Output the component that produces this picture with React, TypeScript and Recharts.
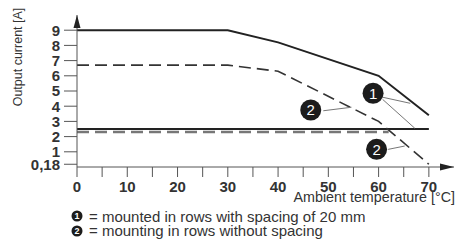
import React from 'react';
import { LineChart, Line, XAxis, YAxis, ReferenceDot, ReferenceLine, Label } from 'recharts';

// Ambient temperature [°C] / output current [A]
const spacedTemps = [0, 30, 40, 60, 70];
const spacedCurrent = [9, 9, 8.2, 6, 3.4];
const noSpacingTemps = [0, 30, 40, 60, 70];
const noSpacingCurrent = [6.7, 6.7, 6.3, 3.0, 0.18];
const spacedLowTemps = [0, 70];
const spacedLowCurrent = [2.5, 2.5];
const noSpacingLowTemps = [0, 62];
const noSpacingLowCurrent = [2.3, 2.3];

const xTicks = [0, 5, 10, 15, 20, 25, 30, 35, 40, 45, 50, 55, 60, 65, 70];
const yTicks = [0.18, 1, 2, 3, 4, 5, 6, 7, 8, 9];

const legendItems = [
  { num: '1', text: '= mounted in rows with spacing of 20 mm' },
  { num: '2', text: '= mounting in rows without spacing' },
];

const toPoints = (t: number[], v: number[]) => t.map((x, i) => ({ t: x, v: v[i] }));

const FONT = '"Liberation Sans", Arial, Helvetica, sans-serif';
const AXIS = '#555';

const YArrow = (p: any) => (
  <polygon points={`${p.cx},${p.cy} ${p.cx - 3.5},${p.cy + 13} ${p.cx + 3.5},${p.cy + 13}`} fill="#222" />
);
const XArrow = (p: any) => (
  <polygon points={`${p.cx},${p.cy} ${p.cx - 14},${p.cy - 3.5} ${p.cx - 14},${p.cy + 3.5}`} fill="#222" />
);

const circleLabel = (n: string) => ({
  value: n,
  position: 'center' as const,
  fill: '#fff',
  fontSize: 15,
  fontFamily: FONT,
});

export default function App() {
  return (
    <div style={{ position: 'absolute', left: 0, top: 0, width: 456, height: 242, background: '#fff', fontFamily: FONT }}>
      <LineChart width={456} height={242} margin={{ top: 15, right: 2, left: 0, bottom: 45 }}>
        <XAxis
          type="number"
          dataKey="t"
          domain={[0, 75]}
          ticks={xTicks}
          allowDataOverflow
          height={30}
          tickSize={10}
          tickMargin={4}
          tickLine={{ stroke: AXIS }}
          axisLine={{ stroke: AXIS }}
          tickFormatter={(v: number) => (v % 10 === 0 ? String(v) : '')}
          tick={{ fill: '#333', fontSize: 15, fontWeight: 700, fontFamily: FONT }}
        >
          <Label
            content={(props: any) => {
              const vb = props.viewBox || { x: 77, y: 167, width: 377 };
              return (
                <text x={vb.x + vb.width + 1} y={vb.y + 35} textAnchor="end" fill="#333" fontSize={14.3} fontFamily={FONT}>
                  Ambient temperature [°C]
                </text>
              );
            }}
          />
        </XAxis>
        <YAxis
          type="number"
          domain={[0, 10]}
          ticks={yTicks}
          allowDataOverflow
          width={77}
          tickSize={13}
          tickMargin={4}
          tickLine={{ stroke: AXIS }}
          axisLine={{ stroke: AXIS }}
          interval={0}
          tickFormatter={(v: number) => (v === 0.18 ? '0,18' : String(v))}
          tick={{ fill: '#333', fontSize: 15, fontWeight: 700, fontFamily: FONT }}
        >
          <Label
            content={() => {
              const x = 22;
              const y = 57;
              return (
                <text x={x} y={y} transform={`rotate(-90 ${x} ${y})`} textAnchor="middle" fill="#333" fontSize={12.5} fontFamily={FONT}>
                  Output current [A]
                </text>
              );
            }}
          />
        </YAxis>

        <Line data={toPoints(noSpacingLowTemps, noSpacingLowCurrent)} dataKey="v" stroke="#777" strokeWidth={2.5} strokeDasharray="12 6" dot={false} isAnimationActive={false} />
        <Line data={toPoints(spacedLowTemps, spacedLowCurrent)} dataKey="v" stroke="#222" strokeWidth={2} dot={false} isAnimationActive={false} />
        <Line data={toPoints(noSpacingTemps, noSpacingCurrent)} dataKey="v" stroke="#333" strokeWidth={1.6} strokeDasharray="12 6" dot={false} isAnimationActive={false} />
        <Line data={toPoints(spacedTemps, spacedCurrent)} dataKey="v" stroke="#222" strokeWidth={2} dot={false} isAnimationActive={false} />

        <ReferenceLine segment={[{ x: 60.8, y: 4.59 }, { x: 66.3, y: 4.19 }]} stroke="#777" strokeWidth={1} ifOverflow="visible" />
        <ReferenceLine segment={[{ x: 60.8, y: 4.45 }, { x: 67.2, y: 2.55 }]} stroke="#777" strokeWidth={1} ifOverflow="visible" />
        <ReferenceLine segment={[{ x: 49.0, y: 3.7 }, { x: 54.6, y: 3.93 }]} stroke="#777" strokeWidth={1} ifOverflow="visible" />
        <ReferenceLine segment={[{ x: 61.9, y: 1.16 }, { x: 65.2, y: 1.38 }]} stroke="#777" strokeWidth={1} ifOverflow="visible" />

        <ReferenceDot x={58.9} y={4.85} r={10.5} fill="#1c1c1c" stroke="none" ifOverflow="visible" label={circleLabel('1')} />
        <ReferenceDot x={46.5} y={3.75} r={10.5} fill="#1c1c1c" stroke="none" ifOverflow="visible" label={circleLabel('2')} />
        <ReferenceDot x={59.6} y={1.16} r={10.5} fill="#1c1c1c" stroke="none" ifOverflow="visible" label={circleLabel('2')} />

        <ReferenceDot x={0} y={10} shape={YArrow} ifOverflow="visible" />
        <ReferenceDot x={75} y={0} shape={XArrow} ifOverflow="visible" />
      </LineChart>

      <div style={{ position: 'absolute', left: 71, top: 209 }}>
        {legendItems.map((it) => (
          <div key={it.num} style={{ display: 'flex', alignItems: 'center', height: 14.5, fontSize: 15, color: '#333', lineHeight: '15px' }}>
            <svg width={12} height={12} style={{ marginRight: 6 }}>
              <circle cx={6} cy={6} r={5.5} fill="#1c1c1c" />
              <text x={6} y={9.2} textAnchor="middle" fill="#fff" fontSize={9} fontWeight={700} fontFamily={FONT}>{it.num}</text>
            </svg>
            <span>{it.text}</span>
          </div>
        ))}
      </div>
    </div>
  );
}
